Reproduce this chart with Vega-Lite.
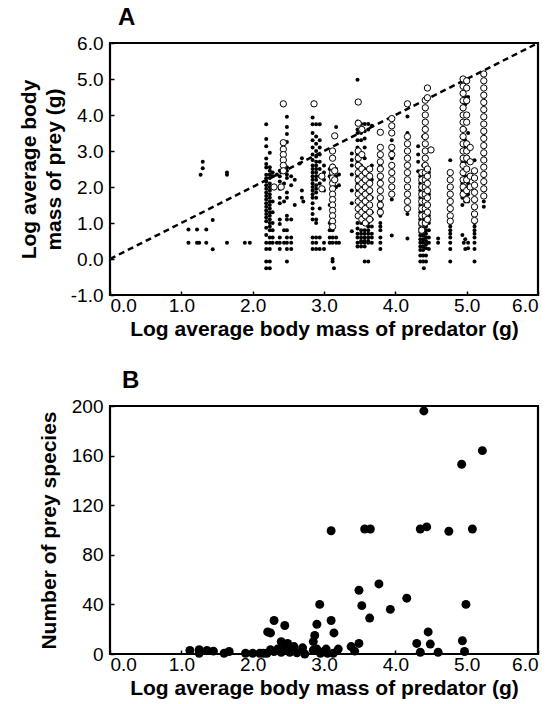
{
"$schema":"https://vega.github.io/schema/vega-lite/v6.json",
"background":"white",
"padding":{"left":17,"top":4,"right":2,"bottom":2},
"spacing":26,
"config":{
"font":"Liberation Sans",
"view":{"stroke":"black","strokeWidth":2.2},
"axis":{"grid":false,"domain":false,"tickColor":"black","tickSize":-4,"tickWidth":1.5,"labelFont":"Liberation Sans","labelFontSize":19,"labelColor":"black","titleFont":"Liberation Sans","titleFontSize":21,"titleFontWeight":"bold","titleColor":"black"},
"axisX":{"labelPadding":5,"titlePadding":3},
"axisY":{"labelPadding":11,"titlePadding":12},
"title":{"fontSize":24,"fontWeight":"bold","anchor":"start","frame":"group","color":"black","font":"Liberation Sans","offset":0}
},
"datasets":{
"line":[{"x":0,"y":0},{"x":6,"y":6}],
"af":[
{"x":1.10,"y":0.82},{"x":1.10,"y":0.45},{"x":1.22,"y":0.82},{"x":1.22,"y":0.45},{"x":1.25,"y":0.45},{"x":1.27,"y":2.34},{"x":1.30,"y":2.52},{"x":1.30,"y":2.7},{"x":1.35,"y":0.82},{"x":1.35,"y":0.45},{"x":1.44,"y":1.08},{"x":1.44,"y":0.27},{"x":1.64,"y":2.4},{"x":1.64,"y":2.34},{"x":1.64,"y":0.45},{"x":1.89,"y":0.45},{"x":1.96,"y":0.45},
{"x":2.19,"y":3.74},{"x":2.19,"y":3.33},{"x":2.19,"y":3.13},{"x":2.19,"y":2.79},{"x":2.19,"y":2.64},{"x":2.19,"y":2.54},{"x":2.19,"y":2.34},{"x":2.19,"y":2.24},{"x":2.19,"y":2.15},{"x":2.19,"y":2.05},{"x":2.19,"y":1.95},{"x":2.19,"y":1.85},{"x":2.19,"y":1.75},{"x":2.19,"y":1.65},{"x":2.19,"y":1.55},{"x":2.19,"y":1.45},{"x":2.19,"y":1.35},{"x":2.19,"y":1.25},{"x":2.19,"y":1.15},{"x":2.19,"y":1.05},{"x":2.19,"y":0.87},{"x":2.19,"y":0.67},{"x":2.19,"y":0.45},{"x":2.19,"y":0.28},{"x":2.19,"y":-0.07},{"x":2.19,"y":-0.26},
{"x":2.24,"y":2.95},{"x":2.24,"y":2.55},{"x":2.24,"y":2.45},{"x":2.24,"y":2.35},{"x":2.24,"y":2.25},{"x":2.24,"y":2.1},{"x":2.24,"y":2.0},{"x":2.24,"y":1.9},{"x":2.24,"y":1.8},{"x":2.24,"y":1.7},{"x":2.24,"y":1.6},{"x":2.24,"y":1.5},{"x":2.24,"y":1.4},{"x":2.24,"y":1.3},{"x":2.24,"y":1.2},{"x":2.24,"y":1.1},{"x":2.24,"y":1.0},{"x":2.24,"y":0.9},{"x":2.24,"y":0.8},{"x":2.24,"y":0.6},{"x":2.24,"y":0.45},{"x":2.24,"y":0.28},{"x":2.24,"y":-0.07},{"x":2.24,"y":-0.26},
{"x":2.28,"y":2.4},{"x":2.28,"y":2.3},{"x":2.28,"y":1.6},{"x":2.28,"y":1.3},{"x":2.28,"y":1.0},{"x":2.28,"y":0.8},{"x":2.28,"y":0.6},{"x":2.28,"y":0.45},{"x":2.34,"y":2.35},{"x":2.34,"y":0.45},
{"x":2.38,"y":2.45},{"x":2.38,"y":2.3},{"x":2.38,"y":2.15},{"x":2.38,"y":1.95},{"x":2.38,"y":1.7},{"x":2.38,"y":1.55},{"x":2.38,"y":1.1},{"x":2.38,"y":0.97},{"x":2.38,"y":0.6},{"x":2.38,"y":0.45},{"x":2.38,"y":0.28},
{"x":2.44,"y":3.2},{"x":2.44,"y":2.7},{"x":2.44,"y":2.1},{"x":2.44,"y":1.6},{"x":2.44,"y":0.8},{"x":2.44,"y":0.45},
{"x":2.48,"y":3.95},{"x":2.48,"y":3.67},{"x":2.48,"y":3.47},{"x":2.48,"y":3.25},{"x":2.48,"y":2.55},{"x":2.48,"y":2.45},{"x":2.48,"y":2.35},{"x":2.48,"y":2.25},{"x":2.48,"y":1.85},{"x":2.48,"y":1.7},{"x":2.48,"y":1.2},{"x":2.48,"y":1.1},{"x":2.48,"y":0.8},{"x":2.48,"y":0.6},{"x":2.48,"y":0.45},{"x":2.48,"y":0.28},{"x":2.48,"y":-0.07},
{"x":2.54,"y":2.3},{"x":2.54,"y":2.05},{"x":2.54,"y":1.1},{"x":2.54,"y":0.6},{"x":2.54,"y":0.45},{"x":2.54,"y":0.28},{"x":2.59,"y":2.2},{"x":2.59,"y":1.5},
{"x":2.69,"y":2.8},{"x":2.66,"y":2.65},{"x":2.69,"y":1.9},{"x":2.69,"y":1.7},{"x":2.71,"y":1.6},
{"x":2.84,"y":3.93},{"x":2.84,"y":3.74},{"x":2.84,"y":3.5},{"x":2.84,"y":3.3},{"x":2.84,"y":3.1},{"x":2.84,"y":2.9},{"x":2.84,"y":2.75},{"x":2.84,"y":2.6},{"x":2.84,"y":2.5},{"x":2.84,"y":2.4},{"x":2.84,"y":2.3},{"x":2.84,"y":2.2},{"x":2.84,"y":2.1},{"x":2.84,"y":2.0},{"x":2.84,"y":1.9},{"x":2.84,"y":1.8},{"x":2.84,"y":1.7},{"x":2.84,"y":1.55},{"x":2.84,"y":1.4},{"x":2.84,"y":1.25},{"x":2.84,"y":1.1},{"x":2.84,"y":0.6},{"x":2.84,"y":0.45},{"x":2.84,"y":0.28},
{"x":2.89,"y":3.74},{"x":2.89,"y":3.4},{"x":2.89,"y":3.2},{"x":2.89,"y":3.0},{"x":2.89,"y":2.85},{"x":2.89,"y":2.7},{"x":2.89,"y":2.6},{"x":2.89,"y":2.5},{"x":2.89,"y":2.4},{"x":2.89,"y":2.3},{"x":2.89,"y":2.2},{"x":2.89,"y":2.05},{"x":2.89,"y":1.95},{"x":2.89,"y":1.85},{"x":2.89,"y":1.7},{"x":2.89,"y":1.1},{"x":2.89,"y":1.0},{"x":2.89,"y":0.6},{"x":2.89,"y":0.45},{"x":2.89,"y":0.28},
{"x":2.94,"y":3.74},{"x":2.94,"y":3.3},{"x":2.94,"y":3.1},{"x":2.94,"y":2.9},{"x":2.94,"y":2.7},{"x":2.94,"y":2.5},{"x":2.94,"y":2.3},{"x":2.94,"y":2.1},{"x":2.94,"y":1.4},{"x":2.94,"y":0.6},{"x":2.94,"y":0.28},
{"x":3.00,"y":2.6},{"x":3.00,"y":2.4},{"x":3.00,"y":2.2},{"x":3.00,"y":1.9},{"x":3.00,"y":0.45},{"x":3.00,"y":0.28},
{"x":3.08,"y":2.5},{"x":3.08,"y":2.3},{"x":3.08,"y":1.5},{"x":3.08,"y":1.0},{"x":3.08,"y":0.8},{"x":3.08,"y":0.6},{"x":3.08,"y":0.45},
{"x":3.12,"y":2.6},{"x":3.12,"y":2.4},{"x":3.12,"y":1.2},{"x":3.12,"y":1.0},{"x":3.12,"y":0.8},{"x":3.12,"y":0.6},{"x":3.12,"y":0.45},{"x":3.12,"y":-0.07},{"x":3.12,"y":0.0},{"x":3.14,"y":-0.26},
{"x":3.17,"y":3.67},{"x":3.17,"y":2.5},{"x":3.17,"y":2.3},{"x":3.17,"y":2.0},{"x":3.17,"y":0.6},{"x":3.17,"y":0.45},{"x":3.21,"y":2.35},{"x":3.21,"y":2.05},{"x":3.21,"y":0.45},
{"x":3.39,"y":2.93},{"x":3.39,"y":2.75},{"x":3.39,"y":2.6},{"x":3.39,"y":2.35},{"x":3.39,"y":1.9},{"x":3.39,"y":1.55},{"x":3.39,"y":0.77},
{"x":3.47,"y":4.98},{"x":3.47,"y":3.82},{"x":3.47,"y":3.6},{"x":3.47,"y":3.5},{"x":3.47,"y":3.3},{"x":3.47,"y":3.1},{"x":3.47,"y":2.9},{"x":3.47,"y":2.7},{"x":3.47,"y":2.55},{"x":3.47,"y":2.4},{"x":3.47,"y":2.3},{"x":3.47,"y":2.2},{"x":3.47,"y":2.1},{"x":3.47,"y":2.0},{"x":3.47,"y":1.9},{"x":3.47,"y":1.8},{"x":3.47,"y":1.6},{"x":3.47,"y":1.4},{"x":3.47,"y":1.2},{"x":3.47,"y":1.0},{"x":3.47,"y":0.85},{"x":3.47,"y":0.7},{"x":3.47,"y":0.6},{"x":3.47,"y":0.45},{"x":3.47,"y":0.35},
{"x":3.52,"y":3.75},{"x":3.52,"y":3.5},{"x":3.52,"y":3.3},{"x":3.52,"y":2.9},{"x":3.52,"y":2.6},{"x":3.52,"y":2.4},{"x":3.52,"y":2.2},{"x":3.52,"y":2.0},{"x":3.52,"y":1.8},{"x":3.52,"y":1.6},{"x":3.52,"y":1.4},{"x":3.52,"y":1.2},{"x":3.52,"y":1.0},{"x":3.52,"y":0.8},{"x":3.52,"y":0.7},{"x":3.52,"y":0.6},{"x":3.52,"y":0.5},{"x":3.52,"y":0.45},{"x":3.52,"y":0.35},
{"x":3.57,"y":3.75},{"x":3.57,"y":3.55},{"x":3.57,"y":3.35},{"x":3.57,"y":3.1},{"x":3.57,"y":2.8},{"x":3.57,"y":2.5},{"x":3.57,"y":2.2},{"x":3.57,"y":1.9},{"x":3.57,"y":1.6},{"x":3.57,"y":1.3},{"x":3.57,"y":1.0},{"x":3.57,"y":0.8},{"x":3.57,"y":0.7},{"x":3.57,"y":0.6},{"x":3.57,"y":0.5},{"x":3.57,"y":0.45},{"x":3.57,"y":0.35},{"x":3.57,"y":-0.07},
{"x":3.62,"y":3.75},{"x":3.62,"y":3.6},{"x":3.62,"y":2.4},{"x":3.62,"y":2.2},{"x":3.62,"y":1.8},{"x":3.62,"y":1.5},{"x":3.62,"y":1.2},{"x":3.62,"y":1.0},{"x":3.62,"y":0.9},{"x":3.62,"y":0.8},{"x":3.62,"y":0.7},{"x":3.62,"y":0.6},{"x":3.62,"y":0.5},{"x":3.62,"y":0.45},{"x":3.62,"y":-0.07},
{"x":3.67,"y":3.7},{"x":3.67,"y":2.6},{"x":3.67,"y":2.2},{"x":3.67,"y":1.7},{"x":3.67,"y":1.3},{"x":3.67,"y":1.1},{"x":3.67,"y":0.9},{"x":3.67,"y":0.7},{"x":3.67,"y":0.6},{"x":3.67,"y":0.45},
{"x":3.79,"y":2.6},{"x":3.79,"y":2.2},{"x":3.79,"y":1.6},{"x":3.79,"y":1.4},{"x":3.79,"y":1.2},{"x":3.79,"y":1.0},{"x":3.79,"y":0.9},{"x":3.79,"y":0.8},{"x":3.79,"y":0.6},{"x":3.79,"y":0.45},{"x":3.79,"y":0.28},
{"x":3.95,"y":3.3},{"x":3.95,"y":3.0},{"x":3.95,"y":2.8},{"x":3.95,"y":2.6},{"x":3.95,"y":2.4},{"x":3.95,"y":2.2},{"x":3.95,"y":2.0},{"x":3.95,"y":1.8},{"x":3.95,"y":1.65},{"x":3.95,"y":0.65},
{"x":4.17,"y":3.96},{"x":4.17,"y":3.5},{"x":4.17,"y":3.2},{"x":4.17,"y":3.0},{"x":4.17,"y":2.8},{"x":4.17,"y":2.6},{"x":4.17,"y":2.4},{"x":4.17,"y":2.2},{"x":4.17,"y":2.0},{"x":4.17,"y":1.8},{"x":4.17,"y":1.6},{"x":4.17,"y":1.4},{"x":4.17,"y":1.25},{"x":4.17,"y":0.57},
{"x":4.32,"y":3.13},{"x":4.32,"y":2.9},{"x":4.32,"y":2.7},{"x":4.32,"y":2.44},
{"x":4.35,"y":2.3},{"x":4.35,"y":2.1},{"x":4.35,"y":1.9},{"x":4.35,"y":1.7},{"x":4.35,"y":1.5},{"x":4.35,"y":1.3},{"x":4.35,"y":1.1},{"x":4.35,"y":0.95},{"x":4.35,"y":0.85},{"x":4.35,"y":0.75},{"x":4.35,"y":0.65},{"x":4.35,"y":0.55},{"x":4.35,"y":0.45},{"x":4.35,"y":0.35},{"x":4.35,"y":0.25},{"x":4.35,"y":0.1},{"x":4.35,"y":-0.07},
{"x":4.39,"y":3.4},{"x":4.39,"y":2.6},{"x":4.39,"y":2.0},{"x":4.39,"y":1.4},{"x":4.39,"y":1.1},{"x":4.39,"y":0.95},{"x":4.39,"y":0.85},{"x":4.39,"y":0.75},{"x":4.39,"y":0.65},{"x":4.39,"y":0.55},{"x":4.39,"y":0.45},{"x":4.39,"y":0.35},{"x":4.39,"y":0.25},{"x":4.39,"y":0.1},{"x":4.39,"y":-0.07},{"x":4.40,"y":-0.26},
{"x":4.43,"y":2.2},{"x":4.43,"y":1.6},{"x":4.43,"y":1.2},{"x":4.43,"y":1.0},{"x":4.43,"y":0.9},{"x":4.43,"y":0.8},{"x":4.43,"y":0.7},{"x":4.43,"y":0.6},{"x":4.43,"y":0.5},{"x":4.43,"y":0.4},{"x":4.43,"y":0.3},{"x":4.43,"y":0.1},{"x":4.43,"y":-0.07},
{"x":4.47,"y":2.4},{"x":4.47,"y":1.8},{"x":4.47,"y":1.2},{"x":4.47,"y":1.0},{"x":4.47,"y":0.8},{"x":4.47,"y":0.6},{"x":4.47,"y":0.45},{"x":4.47,"y":0.28},
{"x":4.60,"y":0.57},{"x":4.60,"y":0.45},
{"x":4.77,"y":2.74},{"x":4.77,"y":1.0},{"x":4.77,"y":0.9},{"x":4.77,"y":0.8},{"x":4.77,"y":0.7},{"x":4.77,"y":0.6},{"x":4.77,"y":0.45},{"x":4.77,"y":0.28},{"x":4.77,"y":-0.07},
{"x":4.94,"y":4.6},{"x":4.94,"y":4.4},{"x":4.94,"y":4.2},{"x":4.94,"y":3.0},{"x":4.94,"y":2.7},{"x":4.94,"y":2.4},{"x":4.94,"y":2.1},{"x":4.94,"y":1.9},{"x":4.94,"y":1.7},{"x":4.94,"y":1.5},{"x":4.94,"y":0.67},{"x":4.96,"y":0.45},
{"x":4.98,"y":4.5},{"x":4.98,"y":4.3},{"x":4.98,"y":3.6},{"x":4.98,"y":3.3},{"x":4.98,"y":3.1},{"x":4.98,"y":2.7},{"x":4.98,"y":2.3},{"x":4.98,"y":2.0},{"x":4.98,"y":1.8},{"x":4.98,"y":1.6},{"x":4.98,"y":0.55},{"x":4.98,"y":0.28},
{"x":5.02,"y":4.5},{"x":5.02,"y":3.5},{"x":5.02,"y":3.0},{"x":5.02,"y":2.5},{"x":5.02,"y":2.1},{"x":5.02,"y":1.8},{"x":5.02,"y":1.6},{"x":5.02,"y":0.45},{"x":5.02,"y":0.3},
{"x":5.11,"y":2.74},{"x":5.11,"y":1.0},{"x":5.11,"y":0.9},{"x":5.11,"y":0.8},{"x":5.11,"y":0.7},{"x":5.11,"y":0.6},{"x":5.11,"y":0.45},{"x":5.11,"y":0.28},{"x":5.11,"y":-0.07},
{"x":5.24,"y":4.5},{"x":5.24,"y":4.3},{"x":5.24,"y":3.5},{"x":5.24,"y":2.8},{"x":5.24,"y":2.3},{"x":5.24,"y":1.9},{"x":5.24,"y":1.6},{"x":5.24,"y":1.45}
],
"ao":[
{"x":2.30,"y":2.0},
{"x":2.43,"y":4.31},{"x":2.43,"y":3.23},{"x":2.43,"y":3.05},{"x":2.43,"y":2.9},{"x":2.43,"y":2.75},{"x":2.43,"y":2.6},{"x":2.43,"y":2.45},{"x":2.40,"y":2.0},
{"x":2.86,"y":4.31},{"x":2.97,"y":2.3},{"x":2.97,"y":1.95},
{"x":3.12,"y":3.0},{"x":3.12,"y":2.8},{"x":3.12,"y":2.55},{"x":3.12,"y":2.4},{"x":3.12,"y":2.25},{"x":3.12,"y":2.1},{"x":3.12,"y":1.95},{"x":3.12,"y":1.8},{"x":3.12,"y":1.65},{"x":3.12,"y":1.5},{"x":3.12,"y":1.35},{"x":3.12,"y":1.2},{"x":3.12,"y":1.05},{"x":3.12,"y":0.9},
{"x":3.15,"y":3.42},{"x":3.15,"y":2.45},{"x":3.15,"y":2.2},
{"x":3.48,"y":4.36},{"x":3.48,"y":3.77},{"x":3.48,"y":3.0},{"x":3.48,"y":2.8},{"x":3.48,"y":2.6},{"x":3.48,"y":2.4},{"x":3.48,"y":2.2},{"x":3.48,"y":2.0},{"x":3.48,"y":1.8},{"x":3.48,"y":1.6},{"x":3.48,"y":1.4},{"x":3.48,"y":1.2},
{"x":3.53,"y":3.6},{"x":3.53,"y":2.9},{"x":3.53,"y":2.5},{"x":3.53,"y":2.3},{"x":3.53,"y":2.1},{"x":3.53,"y":1.9},{"x":3.53,"y":1.7},{"x":3.53,"y":1.5},{"x":3.53,"y":1.3},{"x":3.53,"y":1.1},
{"x":3.58,"y":2.4},{"x":3.58,"y":2.2},{"x":3.58,"y":2.0},{"x":3.58,"y":1.8},{"x":3.58,"y":1.6},{"x":3.58,"y":1.4},{"x":3.58,"y":1.2},{"x":3.58,"y":1.0},
{"x":3.64,"y":2.5},{"x":3.64,"y":2.3},{"x":3.64,"y":2.1},{"x":3.64,"y":1.9},{"x":3.64,"y":1.7},{"x":3.64,"y":1.5},{"x":3.64,"y":1.3},{"x":3.64,"y":1.1},
{"x":3.79,"y":3.52},{"x":3.79,"y":3.1},{"x":3.79,"y":2.9},{"x":3.79,"y":2.7},{"x":3.79,"y":2.5},{"x":3.79,"y":2.3},{"x":3.79,"y":2.1},{"x":3.79,"y":1.9},{"x":3.79,"y":1.7},{"x":3.79,"y":1.5},{"x":3.79,"y":1.3},
{"x":3.95,"y":3.9},{"x":3.95,"y":3.7},{"x":3.95,"y":3.5},{"x":3.95,"y":3.1},{"x":3.95,"y":2.9},{"x":3.95,"y":2.6},{"x":3.95,"y":2.4},{"x":3.95,"y":2.2},{"x":3.95,"y":2.0},{"x":3.95,"y":1.8},
{"x":4.17,"y":4.31},{"x":4.17,"y":3.4},{"x":4.17,"y":3.2},{"x":4.17,"y":3.0},{"x":4.17,"y":2.8},{"x":4.17,"y":2.6},{"x":4.17,"y":2.4},{"x":4.17,"y":2.2},{"x":4.17,"y":2.0},{"x":4.17,"y":1.8},{"x":4.17,"y":1.6},{"x":4.17,"y":1.4},
{"x":4.37,"y":2.4},{"x":4.37,"y":2.2},{"x":4.37,"y":2.0},{"x":4.37,"y":1.8},{"x":4.37,"y":1.6},{"x":4.37,"y":1.4},{"x":4.37,"y":1.2},{"x":4.37,"y":1.0},{"x":4.37,"y":0.8},
{"x":4.42,"y":4.41},{"x":4.42,"y":4.2},{"x":4.42,"y":4.0},{"x":4.42,"y":3.8},{"x":4.42,"y":3.6},{"x":4.42,"y":3.4},{"x":4.42,"y":3.2},{"x":4.42,"y":3.0},{"x":4.42,"y":2.8},{"x":4.42,"y":2.6},{"x":4.42,"y":2.4},{"x":4.42,"y":2.2},{"x":4.42,"y":2.0},{"x":4.42,"y":1.8},{"x":4.42,"y":1.6},{"x":4.42,"y":1.4},{"x":4.42,"y":1.2},{"x":4.42,"y":1.0},
{"x":4.45,"y":4.75},{"x":4.45,"y":4.48},{"x":4.45,"y":2.5},{"x":4.45,"y":2.3},{"x":4.45,"y":2.1},{"x":4.45,"y":1.9},{"x":4.45,"y":1.7},{"x":4.45,"y":1.5},{"x":4.45,"y":1.3},{"x":4.45,"y":1.1},
{"x":4.50,"y":3.03},
{"x":4.77,"y":2.4},{"x":4.77,"y":2.2},{"x":4.77,"y":2.0},{"x":4.77,"y":1.8},{"x":4.77,"y":1.6},{"x":4.77,"y":1.4},{"x":4.77,"y":1.2},{"x":4.77,"y":1.05},
{"x":4.95,"y":5.0},{"x":4.95,"y":4.8},{"x":4.95,"y":4.6},{"x":4.95,"y":4.4},{"x":4.95,"y":4.2},{"x":4.95,"y":4.0},{"x":4.95,"y":3.8},{"x":4.95,"y":3.6},{"x":4.95,"y":3.4},{"x":4.95,"y":3.2},{"x":4.95,"y":3.0},{"x":4.95,"y":2.8},{"x":4.95,"y":2.6},{"x":4.95,"y":2.4},{"x":4.95,"y":2.2},{"x":4.95,"y":2.0},{"x":4.95,"y":1.8},
{"x":5.00,"y":4.95},{"x":5.00,"y":4.75},{"x":5.00,"y":4.4},{"x":5.00,"y":4.0},{"x":5.00,"y":3.8},{"x":5.00,"y":3.2},{"x":5.00,"y":3.0},{"x":5.00,"y":2.8},{"x":5.00,"y":2.5},{"x":5.00,"y":2.2},{"x":5.00,"y":1.9},{"x":5.00,"y":1.65},
{"x":5.05,"y":3.1},{"x":5.05,"y":2.7},{"x":5.05,"y":2.3},{"x":5.05,"y":2.0},
{"x":5.11,"y":2.45},{"x":5.11,"y":2.25},{"x":5.11,"y":2.05},{"x":5.11,"y":1.85},{"x":5.11,"y":1.65},{"x":5.11,"y":1.45},{"x":5.11,"y":1.25},{"x":5.11,"y":1.07},
{"x":5.24,"y":5.14},{"x":5.24,"y":4.95},{"x":5.24,"y":4.75},{"x":5.24,"y":4.55},{"x":5.24,"y":4.35},{"x":5.24,"y":4.15},{"x":5.24,"y":3.95},{"x":5.24,"y":3.75},{"x":5.24,"y":3.55},{"x":5.24,"y":3.35},{"x":5.24,"y":3.15},{"x":5.24,"y":2.95},{"x":5.24,"y":2.75},{"x":5.24,"y":2.55},{"x":5.24,"y":2.35},{"x":5.24,"y":2.15},{"x":5.24,"y":1.95},{"x":5.24,"y":1.75}
],
"b":[
{"x":1.12,"y":2.8},{"x":1.25,"y":0.6},{"x":1.25,"y":3.4},{"x":1.36,"y":2.8},{"x":1.45,"y":2.3},{"x":1.6,"y":0.6},{"x":1.67,"y":2},{"x":1.9,"y":0.6},{"x":2.0,"y":0.6},{"x":2.1,"y":0.6},{"x":2.15,"y":0.6},
{"x":2.21,"y":17.8},{"x":2.25,"y":17},{"x":2.3,"y":27},{"x":2.25,"y":3.4},{"x":2.2,"y":0.6},{"x":2.3,"y":2},{"x":2.35,"y":4},{"x":2.4,"y":10},{"x":2.45,"y":23},{"x":2.49,"y":8.5},{"x":2.5,"y":4},{"x":2.52,"y":1.4},{"x":2.4,"y":1.4},{"x":2.45,"y":5},{"x":2.55,"y":3},{"x":2.58,"y":6},{"x":2.62,"y":1},
{"x":2.7,"y":5},{"x":2.73,"y":0},{"x":2.85,"y":10},{"x":2.87,"y":15},{"x":2.9,"y":24},{"x":2.94,"y":40},{"x":2.9,"y":4},{"x":2.85,"y":3},{"x":2.95,"y":0.6},{"x":3.0,"y":2},{"x":3.03,"y":4},{"x":3.05,"y":0.5},
{"x":3.1,"y":27},{"x":3.1,"y":99.4},{"x":3.14,"y":17},{"x":3.13,"y":0.6},{"x":3.2,"y":4},{"x":3.38,"y":6},{"x":3.43,"y":2.3},{"x":3.49,"y":51.4},{"x":3.49,"y":8.5},{"x":3.53,"y":39},{"x":3.57,"y":100.8},{"x":3.65,"y":100.8},{"x":3.64,"y":29},{"x":3.77,"y":56.5},{"x":3.93,"y":36},{"x":4.16,"y":45},
{"x":4.3,"y":8.5},{"x":4.35,"y":100.8},{"x":4.35,"y":1.4},{"x":4.4,"y":196},{"x":4.44,"y":102.5},{"x":4.46,"y":17.8},{"x":4.49,"y":8},{"x":4.6,"y":1.4},{"x":4.75,"y":99},{"x":4.93,"y":153},{"x":4.94,"y":10.7},{"x":4.97,"y":2},{"x":4.99,"y":40},{"x":5.08,"y":100.8},{"x":5.22,"y":164}
]
},
"vconcat":[
{
"title":{"text":"A","dx":8},
"width":428,"height":252,
"encoding":{
"x":{"field":"x","type":"quantitative","scale":{"domain":[0,6],"nice":false},"axis":{"values":[0,1,2,3,4,5,6],"format":".1f","title":"Log average body mass of predator (g)"}},
"y":{"field":"y","type":"quantitative","scale":{"domain":[-1,6],"nice":false},"axis":{"values":[-1,0,1,2,3,4,5,6],"labelExpr":"datum.value < 0 ? '-' + format(-datum.value, '.1f') : format(datum.value, '.1f')","title":["Log average body","mass of prey (g)"],"titleLineHeight":25,"titlePadding":6}}
},
"layer":[
{"data":{"name":"line"},"mark":{"type":"line","strokeDash":[6,4],"strokeWidth":2.5,"color":"black","clip":true}},
{"data":{"name":"af"},"mark":{"type":"circle","size":16,"color":"black","opacity":1}},
{"data":{"name":"ao"},"mark":{"type":"point","shape":"circle","size":40,"filled":true,"fill":"white","stroke":"black","strokeWidth":1,"opacity":1}}
]
},
{
"title":{"text":"B","dx":12},
"width":428,"height":248,
"data":{"name":"b"},
"mark":{"type":"circle","size":80,"color":"black","opacity":1},
"encoding":{
"x":{"field":"x","type":"quantitative","scale":{"domain":[0,6],"nice":false},"axis":{"values":[0,1,2,3,4,5,6],"format":".1f","title":"Log average body mass of predator (g)"}},
"y":{"field":"y","type":"quantitative","scale":{"domain":[0,200],"nice":false},"axis":{"values":[0,40,80,120,160,200],"title":"Number of prey species"}}
}
}
]
}
